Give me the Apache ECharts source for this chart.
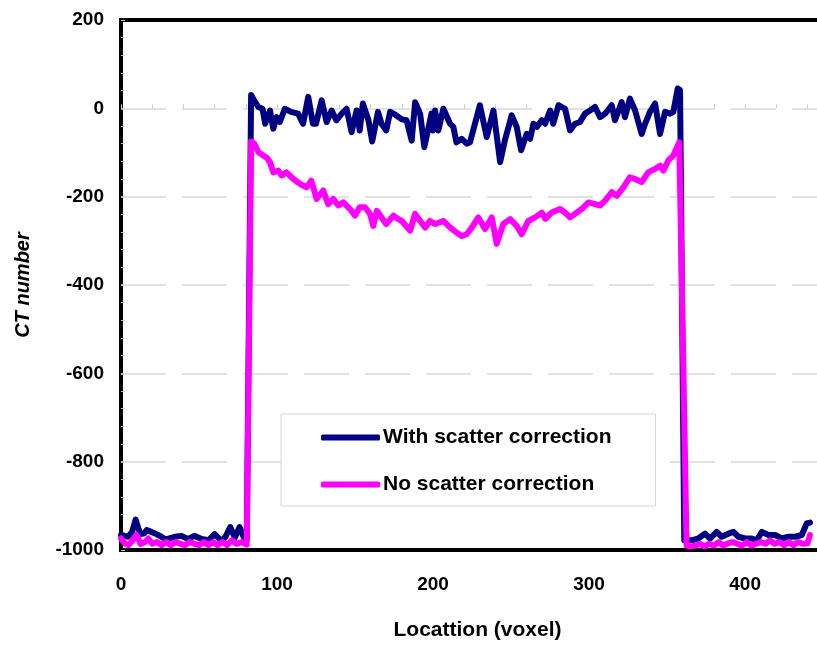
<!DOCTYPE html>
<html>
<head>
<meta charset="utf-8">
<style>
  html, body { margin: 0; padding: 0; background: #fff; }
  #chart { width: 817px; height: 646px; }
</style>
<script src="https://cdn.jsdelivr.net/npm/echarts@6/dist/echarts.min.js"></script>
</head>
<body>
<div id="chart"></div>
<script>
// CT number profile along a line through the phantom, with and without scatter correction.
const seriesNames = ['With scatter correction', 'No scatter correction'];
const xTicks = [0, 100, 200, 300, 400];
const yTicks = [-1000, -800, -600, -400, -200, 0, 200];

// Profile with scatter correction: voxel location / CT number
const corrLoc = [
  0, 2, 4.5, 7, 9.4, 11, 12.5, 15, 16.5, 19.5, 22.7, 25.9, 28, 30, 34.4, 38.7, 43, 47, 51.7, 56,
  60, 64.6, 67, 70, 73, 76, 78.6, 80.6,
  83.4, 85, 88, 90.7, 92.4, 95.5, 97.6, 99.7, 101.8, 105, 109, 113.5, 116.7, 120, 123, 125,
  128.6, 131.8, 135, 138, 141.5, 144.6, 147.8, 151, 153, 155, 158.6, 161, 164.7, 167, 170,
  172.5, 176, 180, 183, 186.3, 188.5, 191.7, 194.4, 199, 200, 201.3, 203.4, 206.6, 210.9,
  213, 215, 218.4, 221.6, 223.7, 230, 234.4, 238.7, 243, 246, 250.4, 253.6, 256.4, 260,
  262.2, 264.3, 266.5, 269.7, 271.8, 275, 277, 280.4, 284.6, 287.8, 291, 294.2, 297.4,
  300.6, 303.8, 307, 310.3, 314.5, 316.6, 320.9, 323, 326.2, 329.5, 333.7, 335.9, 339,
  342.3, 345.5, 348.7, 351.9, 354, 356.8, 358.3,
  361, 365.8, 370, 374.3, 377.5, 381.8, 385, 389.3, 392.5, 395.7, 400, 404.3, 407.5, 410.7,
  415, 419.2, 423.5, 427.8, 432, 436.3, 439.5, 441.6
];
const corrCT = [
  -966, -968, -970, -960, -931, -950, -964, -962, -955, -959, -964, -970, -975, -975, -970, -968, -975, -968, -975, -978,
  -964, -980, -970, -948, -972, -948, -970, -975,
  30, 20, 3, -1, -35, -5, -46, -20, -31, -1, -8, -12, -35, 26, -35, -35,
  18, -31, -5, -27, -12, -1, -54, -5, -50, 11, -27, -75, -8, -35, -50,
  -8, -15, -25, -27, -73, 14, -12, -88, -12, -50, -5, -50, -1, -35,
  -42, -77, -69, -80, -77, 7, -65, -5, -122, -73, -16, -42, -95, -58,
  -69, -35, -42, -27, -35, -5, -35, 7, -1, -50, -35, -31, -12,
  -5, 3, -20, -12, 7, -27, 14, -20, 22, -5, -58, -35, -8,
  11, -58, -8, -12, -8, 45, 41,
  -978, -978, -974, -963, -974, -959, -970, -963, -959, -970, -974, -974, -978, -959,
  -966, -966, -974, -970, -970, -966, -940, -938
];

// Profile without scatter correction: voxel location / CT number
const rawLoc = [
  0, 2.5, 4.7, 7, 10, 12.5, 15, 17.5, 20, 23, 26, 29, 32, 35, 38, 41, 44, 47, 50, 53,
  56, 59, 62, 65, 68, 71, 74, 77.3, 80.6,
  83.4, 85.5, 88, 91.2, 93.5, 95.5, 97.6, 100.8, 103, 106, 110.5, 114.7, 119, 122, 125.4,
  129.6, 132.8, 136, 139.3, 142.5, 146.8, 150, 153, 156.4, 159.6, 161.7, 164, 167, 170,
  174.6, 177.8, 180, 185.3, 188.5, 191.7, 195, 198, 201.3, 206.6, 211, 215, 218.4, 221.6,
  224.8, 229, 233.3, 237.6, 240.8, 245, 249.4, 253.6, 256.8, 261, 265.4, 269.7, 272, 276,
  281.4, 284.6, 287.8, 291, 295.3, 299.6, 303.8, 307, 310.3, 314.5, 317.7, 322, 326.2,
  329.5, 333.7, 337.9, 342.3, 345.5, 347.6, 350.8, 354, 357.8,
  362.5, 365, 368, 371, 374, 377, 380, 383, 386, 389, 392, 395, 398, 401, 404, 407, 410,
  413, 416, 419, 422, 425, 428, 431, 434, 437, 440, 441.6
];
const rawCT = [
  -974, -985, -989, -980, -966, -986, -983, -974, -986, -982, -989, -982, -989, -982, -986, -989, -982, -986, -989, -982,
  -989, -982, -989, -982, -989, -978, -986, -982, -988,
  -75, -80, -99, -107, -112, -122, -145, -141, -152, -145, -160, -171, -179, -164, -205,
  -186, -217, -205, -220, -213, -228, -243, -224, -224, -239, -266, -232, -247, -262,
  -243, -251, -255, -277, -239, -255, -270, -255, -262, -255, -270, -281, -289, -285,
  -270, -247, -273, -247, -307, -262, -251, -266, -285, -255, -247, -236, -250, -236,
  -228, -236, -247, -239, -228, -213, -217, -220, -209, -190, -198, -179, -156,
  -160, -167, -145, -137, -130, -141, -118, -107, -77,
  -990, -992, -990, -986, -992, -986, -990, -982, -990, -985, -982, -986, -990, -982, -990, -986, -982,
  -986, -978, -986, -982, -989, -982, -989, -982, -986, -985, -966
];

const pairs = (xs, ys) => xs.map((x, i) => [x, ys[i]]);

const FONT = '"Liberation Sans", Arial, Helvetica, sans-serif';

const chart = echarts.init(document.getElementById('chart'), null, { renderer: 'canvas' });

chart.setOption({
  animation: false,
  backgroundColor: '#fff',
  grid: {
    left: 121, right: -3, top: 20, bottom: 96,
    outerBoundsMode: 'none',
    containLabel: false,
    show: true,
    borderColor: '#000',
    borderWidth: 4,
    backgroundColor: 'transparent'
  },
  legend: {
    orient: 'vertical',
    left: 281,
    top: 414,
    data: seriesNames,
    icon: 'roundRect',
    itemWidth: 59,
    itemHeight: 6,
    itemGap: 26,
    padding: [13, 44, 11, 40],
    backgroundColor: '#fff',
    borderColor: '#d6d6d6',
    borderWidth: 1,
    selectedMode: false,
    textStyle: { fontFamily: FONT, fontSize: 21, fontWeight: 'bold', color: '#000', padding: [0, 0, 0, -2] }
  },
  xAxis: {
    type: 'value',
    min: 0,
    max: 448,
    interval: 100,
    name: 'Locattion (voxel)',
    nameLocation: 'middle',
    nameGap: 70,
    nameTextStyle: { fontFamily: FONT, fontSize: 21, fontWeight: 'bold', color: '#000', padding: [0, 0, 0, 14] },
    axisLine: { show: false },
    axisTick: { show: true, inside: true, length: 4, lineStyle: { color: '#c8c8c8' } },
    minorTick: { show: true, splitNumber: 5, length: 4, lineStyle: { color: '#c8c8c8' } },
    axisLabel: {
      fontFamily: FONT, fontSize: 19, fontWeight: 'bold', color: '#000', margin: 25,
      formatter: v => (xTicks.indexOf(v) >= 0 ? String(v) : '')
    },
    splitLine: { show: false }
  },
  yAxis: {
    type: 'value',
    min: yTicks[0],
    max: yTicks[yTicks.length - 1],
    interval: 200,
    name: 'CT number',
    nameLocation: 'middle',
    nameGap: 88,
    nameTextStyle: { fontFamily: FONT, fontSize: 20, fontWeight: 'bold', fontStyle: 'italic', color: '#000' },
    axisLine: { show: false },
    axisTick: { show: true, inside: true, length: 4, lineStyle: { color: '#c8c8c8' } },
    minorTick: { show: true, splitNumber: 5, length: 4, lineStyle: { color: '#c8c8c8' } },
    axisLabel: {
      fontFamily: FONT, fontSize: 19, fontWeight: 'bold', color: '#000', margin: 17,
      formatter: v => String(v)
    },
    splitLine: {
      show: true,
      showMinLine: false,
      showMaxLine: false,
      lineStyle: { color: '#d9d9d9', width: 1.5, type: [45, 16] }
    }
  },
  series: [
    {
      name: seriesNames[0],
      type: 'line',
      data: pairs(corrLoc, corrCT),
      symbol: 'none',
      color: '#000080',
      lineStyle: { color: '#000080', width: 6, cap: 'round', join: 'round' },
      z: 3
    },
    {
      name: seriesNames[1],
      type: 'line',
      data: pairs(rawLoc, rawCT),
      symbol: 'none',
      color: '#ff00ff',
      lineStyle: { color: '#ff00ff', width: 6, cap: 'round', join: 'round' },
      z: 4
    }
  ]
});
</script>
</body>
</html>
